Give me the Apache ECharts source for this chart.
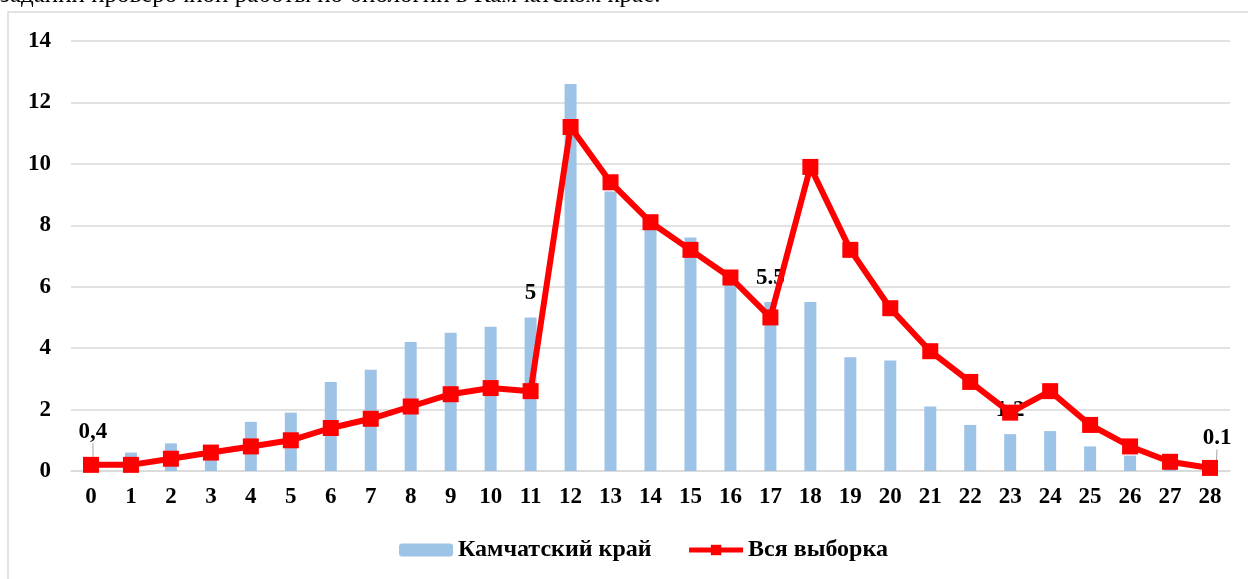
<!DOCTYPE html>
<html>
<head>
<meta charset="utf-8">
<script src="https://cdn.jsdelivr.net/npm/echarts@6/dist/echarts.min.js"></script>
<style>
    html, body { margin: 0; padding: 0; background: #fff; }
    #chart { width: 1248px; height: 579px; }
</style>
</head>
<body>
<div id="chart"></div>
<script>
// категории (баллы)
var categories = ['0','1','2','3','4','5','6','7','8','9','10','11','12','13','14','15','16','17','18','19','20','21','22','23','24','25','26','27','28'];
// Камчатский край, %
var kamchatka = [0.4, 0.6, 0.9, 0.5, 1.6, 1.9, 2.9, 3.3, 4.2, 4.5, 4.7, 5.0, 12.6, 9.1, 8.0, 7.6, 6.2, 5.5, 5.5, 3.7, 3.6, 2.1, 1.5, 1.2, 1.3, 0.8, 0.5, 0.2, 0.1];
// Вся выборка, %
var total = [0.2, 0.2, 0.4, 0.6, 0.8, 1.0, 1.4, 1.7, 2.1, 2.5, 2.7, 2.6, 11.2, 9.4, 8.1, 7.2, 6.3, 5.0, 9.9, 7.2, 5.3, 3.9, 2.9, 1.9, 2.6, 1.5, 0.8, 0.3, 0.1];
// подписи над отдельными столбцами
var barLabels = ['0,4','','','','','','','','','','','5','','','','','','5.5','','','','','','1.2','','','','','0.1'];
var yTicks = [0, 2, 4, 6, 8, 10, 12, 14];

var font = '"Liberation Serif", "Times New Roman", serif';

var barData = kamchatka.map(function (v, i) {
    var item = { value: v };
    if (barLabels[i] === '') {
        item.label = { show: false };
    }
    if (i !== 0 && i !== 28) {
        item.labelLine = { show: false };
    }
    return item;
});

// подписи с выноской (первая и последняя)
function labelLayout(p) {
    var cx = p.rect.x + p.rect.width / 2;
    if (p.dataIndex === 0) {
        return { x: cx + 2, y: p.rect.y - 27, align: 'center', verticalAlign: 'middle' };
    }
    if (p.dataIndex === 28) {
        return { x: cx + 7, y: p.rect.y - 30, align: 'center', verticalAlign: 'middle' };
    }
    return {};
}

var myChart = echarts.init(document.getElementById('chart'));
myChart.setOption({
    animation: false,
    textStyle: { fontFamily: font },
    graphic: [
        {
            type: 'rect',
            shape: { x: 8, y: 12, width: 1300, height: 620 },
            style: { fill: 'none', stroke: '#D9D9D9', lineWidth: 1.5 },
            silent: true
        },
        {
            type: 'text',
            x: 0, y: 8,
            style: {
                text: 'заданий проверочной работы по биологии в Камчатском крае.',
                font: '25px ' + font,
                fill: '#000',
                verticalAlign: 'bottom'
            },
            silent: true
        }
    ],
    grid: { left: 71, right: 18, top: 41, bottom: 108 },
    legend: {
        left: 394,
        bottom: 12,
        itemWidth: 54,
        itemHeight: 13,
        itemGap: 35,
        lineStyle: { width: 5 },
        textStyle: { fontSize: 24, fontWeight: 'bold', color: '#000', fontFamily: font },
        data: ['Камчатский край', 'Вся выборка']
    },
    xAxis: {
        type: 'category',
        data: categories,
        axisTick: { show: false },
        axisLine: { lineStyle: { color: '#D9D9D9', width: 1.5 } },
        axisLabel: { margin: 15, fontSize: 23, fontWeight: 'bold', color: '#000', fontFamily: font }
    },
    yAxis: {
        type: 'value',
        min: yTicks[0],
        max: yTicks[yTicks.length - 1],
        interval: 2,
        axisLabel: { margin: 20, fontSize: 23, fontWeight: 'bold', color: '#000', fontFamily: font },
        splitLine: { lineStyle: { color: '#D9D9D9', width: 1.5 } }
    },
    series: [
        {
            name: 'Камчатский край',
            type: 'bar',
            data: barData,
            barWidth: 12,
            itemStyle: { color: '#9DC3E6' },
            label: {
                show: true,
                position: 'top',
                distance: 13,
                fontSize: 23,
                fontWeight: 'bold',
                color: '#000',
                fontFamily: font,
                formatter: function (p) { return barLabels[p.dataIndex]; }
            },
            labelLayout: labelLayout,
            labelLine: { show: true, length2: 0, lineStyle: { color: '#A6A6A6', width: 1 } }
        },
        {
            name: 'Вся выборка',
            type: 'line',
            data: total,
            symbol: 'rect',
            symbolSize: 16,
            lineStyle: { color: '#FF0000', width: 6 },
            itemStyle: { color: '#FF0000' },
            z: 3
        }
    ]
});
</script>
</body>
</html>
